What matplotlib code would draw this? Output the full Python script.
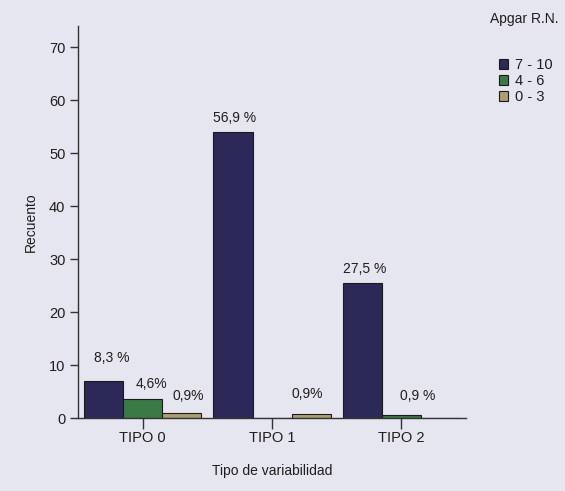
import numpy as np
import matplotlib.pyplot as plt

plt.rcParams['font.family'] = ['Liberation Sans', 'DejaVu Sans']

categories = ['TIPO 0', 'TIPO 1', 'TIPO 2']
series_names = ['7 - 10', '4 - 6', '0 - 3']
apgar_7_10 = [7, 54, 25.5]
apgar_4_6 = [3.6, 0, 0.6]
apgar_0_3 = [1.0, 0.9, 0]
# percentage labels (None = no label)
pct_7_10 = ['8,3 %', '56,9 %', '27,5 %']
pct_4_6 = ['4,6%', None, '0,9 %']
pct_0_3 = ['0,9%', '0,9%', None]

colors = ['#2c2858', '#3a7a47', '#ab9f72']
bg = '#e6e6f0'
txt = '#1e1e1e'

fig = plt.figure(figsize=(5.65, 4.91), dpi=100, facecolor=bg)
ax = fig.add_axes([0.138, 0.148, 0.687, 0.799], facecolor=bg)

x = np.arange(len(categories))
w = 0.302
series = [apgar_7_10, apgar_4_6, apgar_0_3]
labels = [pct_7_10, pct_4_6, pct_0_3]
# label offsets in points (dx, dy) from each bar top, per series / group
offsets = [[(6, 17), (1, 10), (2, 10)],
           [(6, 11), (0, 0), (12, 14)],
           [(5, 12), (-3, 14), (0, 0)]]
handles = []
for i, (vals, lab) in enumerate(zip(series, labels)):
    pos = x + (i - 1) * w
    b = ax.bar(pos, vals, width=w, color=colors[i], edgecolor='#1a1a1a',
               linewidth=0.8, label=series_names[i])
    handles.append(b)
    for j, (px, v, t) in enumerate(zip(pos, vals, lab)):
        if t is None:
            continue
        ax.annotate(t, (px, v), xytext=offsets[i][j], textcoords='offset points',
                    ha='center', va='center', fontsize=10, color=txt)

ax.set_xlim(-0.5, 2.5)
ax.set_ylim(0, 74)
ax.set_yticks(range(0, 71, 10))
ax.set_xticks(x)
ax.set_xticklabels(categories)
ax.spines['top'].set_visible(False)
ax.spines['right'].set_visible(False)
for s in ['left', 'bottom']:
    ax.spines[s].set_color('#333333')
    ax.spines[s].set_linewidth(1.0)
ax.tick_params(axis='y', length=6, width=1, color='#333333', labelsize=10.5,
               labelcolor=txt, pad=3)
ax.tick_params(axis='x', length=8, width=1, color='#333333', labelsize=10.5,
               labelcolor=txt, pad=1)
ax.set_ylabel('Recuento', fontsize=10, color=txt, labelpad=8)
ax.set_xlabel('Tipo de variabilidad', fontsize=10, color=txt, labelpad=14)

fig.text(0.868, 0.962, 'Apgar R.N.', fontsize=10, color=txt,
         ha='left', va='center')
leg = fig.legend(handles=handles, loc='upper left',
                 bbox_to_anchor=(0.872, 0.894), frameon=False, fontsize=10.5,
                 handlelength=0.65, handleheight=0.65, handletextpad=0.5,
                 labelspacing=0.15, borderaxespad=0)
for t in leg.get_texts():
    t.set_color(txt)

fig.savefig('out.png', dpi=100, facecolor=bg)
